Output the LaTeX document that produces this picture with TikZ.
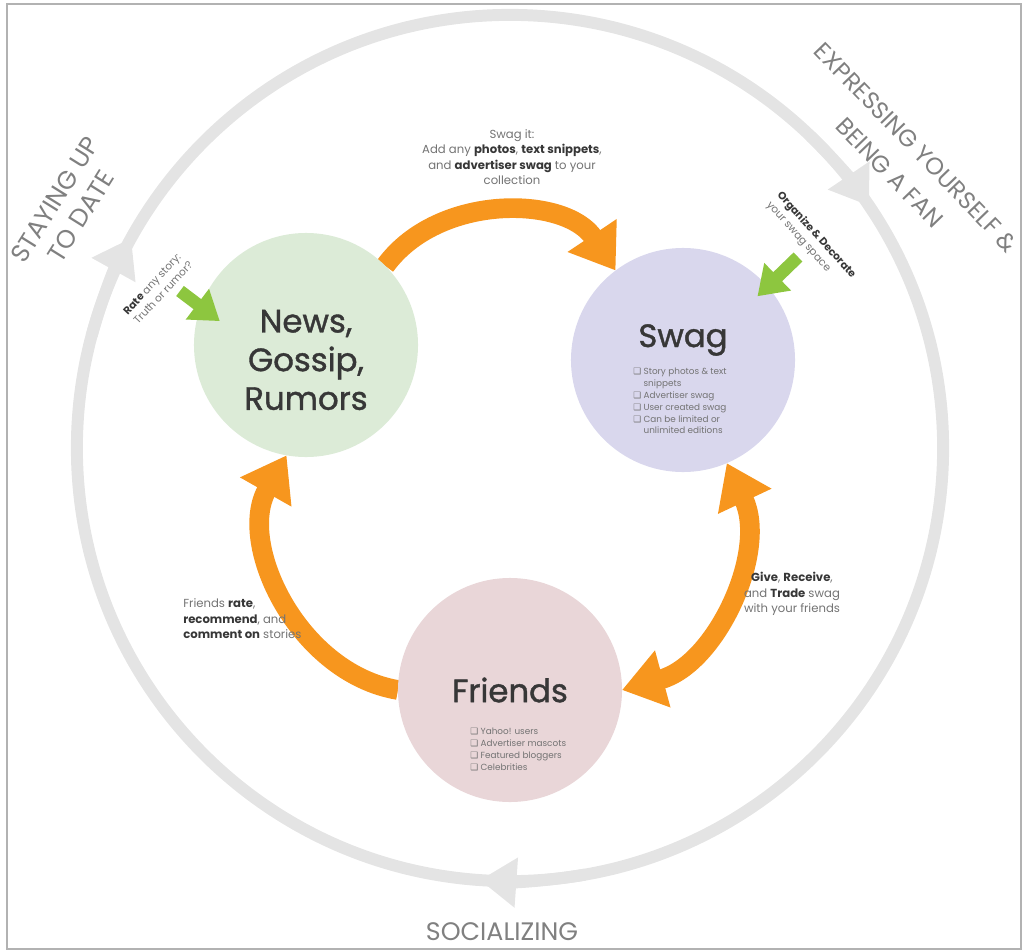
\documentclass[tikz,border=0pt]{standalone}
\usepackage{fontspec}
\setmainfont{Poppins}
\newfontfamily\headfont{Poppins}[FakeBold=1.2]
\newfontfamily\symfont{DejaVu Sans}
\usepackage{tikz}
\usetikzlibrary{arrows.meta, backgrounds}
\definecolor{ringgray}{RGB}{228,228,228}
\definecolor{swagorange}{RGB}{247,150,30}
\definecolor{leafgreen}{RGB}{141,198,63}
\definecolor{newsfill}{RGB}{220,235,215}
\definecolor{swagfill}{RGB}{217,215,237}
\definecolor{friendfill}{RGB}{233,214,216}
\definecolor{txtgray}{RGB}{115,115,115}
\definecolor{darktxt}{RGB}{55,55,55}
\newcommand{\chk}{{\symfont ❑}}
\newcommand{\hl}[1]{\textbf{\color{darktxt}#1}}

\begin{document}
\begin{tikzpicture}[x=0.025cm, y=0.025cm,
  bubble/.style={circle, minimum size=5.6cm, inner sep=0pt, outer sep=0pt},
  title/.style={font=\headfont\fontsize{23}{27.5}\selectfont, text=darktxt, align=center, inner sep=0pt},
  flow/.style={draw=swagorange, line width=14pt, -{Triangle[length=30pt, width=40pt]}},
  pointer/.style={draw=leafgreen, line width=9pt, -{Triangle[length=20pt, width=26pt]}},
  ringarrow/.style={draw=ringgray, line width=8.5pt, -{Triangle[length=26pt, width=34pt]}},
  note/.style={font=\fontsize{8.3}{11}\selectfont, text=txtgray, inner sep=0pt},
  tilted/.style={font=\fontsize{7.5}{10}\selectfont, text=txtgray, align=left, inner sep=0pt},
  list/.style={font=\fontsize{6.3}{8.4}\selectfont, text=txtgray, align=left, inner sep=0pt},
  theme/.style={font=\fontsize{18}{22}\selectfont, text=gray, align=center, inner sep=0pt}]
\useasboundingbox (0,0) rectangle (1025,-952);
\draw[gray!60, line width=1.2pt] (7,-4) rectangle (1021,-949);

% outer cycle
\node[circle, draw=ringgray, line width=8.5pt, minimum size=21.65cm, outer sep=0pt] (ring) at (510,-448) {};
\foreach \a/\b in {165/151, 46/34, 280/266}
  \draw[ringarrow] (ring.\a) arc (\a:\b:433);

\node[bubble, fill=newsfill] (news) at (306,-345) {};
\node[bubble, fill=swagfill] (swag) at (683,-360) {};
\node[bubble, fill=friendfill] (friends) at (510,-690) {};
\node[title] (newstitle) at (306,-360) {News,\\Gossip,\\Rumors};
\node[title] (swagtitle) at (683,-340) {Swag};
\node[title] (friendstitle) at (510,-690) {Friends};

\begin{pgfonlayer}{background}
\draw[flow] (news.45) to[bend left=55] (swag.127);
\draw[flow, {Triangle[length=30pt, width=40pt]}-{Triangle[length=30pt, width=40pt]}] (swag.-67) to[bend left=50] (friends.0);
\draw[flow] (friends.180) to[bend left=55] (news.-100);
\end{pgfonlayer}

\coordinate (ratetail) at (180,-291);
\coordinate (decotail) at (798,-257);
\draw[pointer, shorten >=-17pt] (ratetail) -- (news.160);
\draw[pointer, shorten >=-10pt] (decotail) -- (swag.41);

\node[note, align=center] (swagit) at (512,-157) {Swag it:\\Add any \hl{photos}, \hl{text snippets},\\and \hl{advertiser swag} to your\\collection};
\node[tilted, rotate=47] (rate) at (158,-288) {\hl{Rate} any story:\\Truth or rumor?};
\node[tilted, rotate=-48] (organize) at (811,-240) {\hl{Organize \& Decorate}\\your swag space};
\node[note, align=center] (give) at (792,-594) {\hl{Give}, \hl{Receive},\\and \hl{Trade} swag\\with your friends};
\node[note, align=left, anchor=west] (rateit) at (183,-619) {Friends \hl{rate},\\\hl{recommend}, and\\\hl{comment on} stories};

\node[list, anchor=north west] (swaglist) at (633,-368) {\chk\ Story photos \& text\\\phantom{\chk\ }snippets\\\chk\ Advertiser swag\\\chk\ User created swag\\\chk\ Can be limited or\\\phantom{\chk\ }unlimited editions};
\node[list, anchor=north west] (friendlist) at (470,-728) {\chk\ Yahoo! users\\\chk\ Advertiser mascots\\\chk\ Featured bloggers\\\chk\ Celebrities};

\node[theme, rotate=58] (staying) at (68,-208) {STAYING UP\\TO DATE};
\node[theme, rotate=-46, font=\fontsize{17}{26}\selectfont] (expressing) at (903,-160) {EXPRESSING YOURSELF \&\\BEING A FAN};
\node[theme] (socializing) at (502,-932) {SOCIALIZING};
\end{tikzpicture}
\end{document}
